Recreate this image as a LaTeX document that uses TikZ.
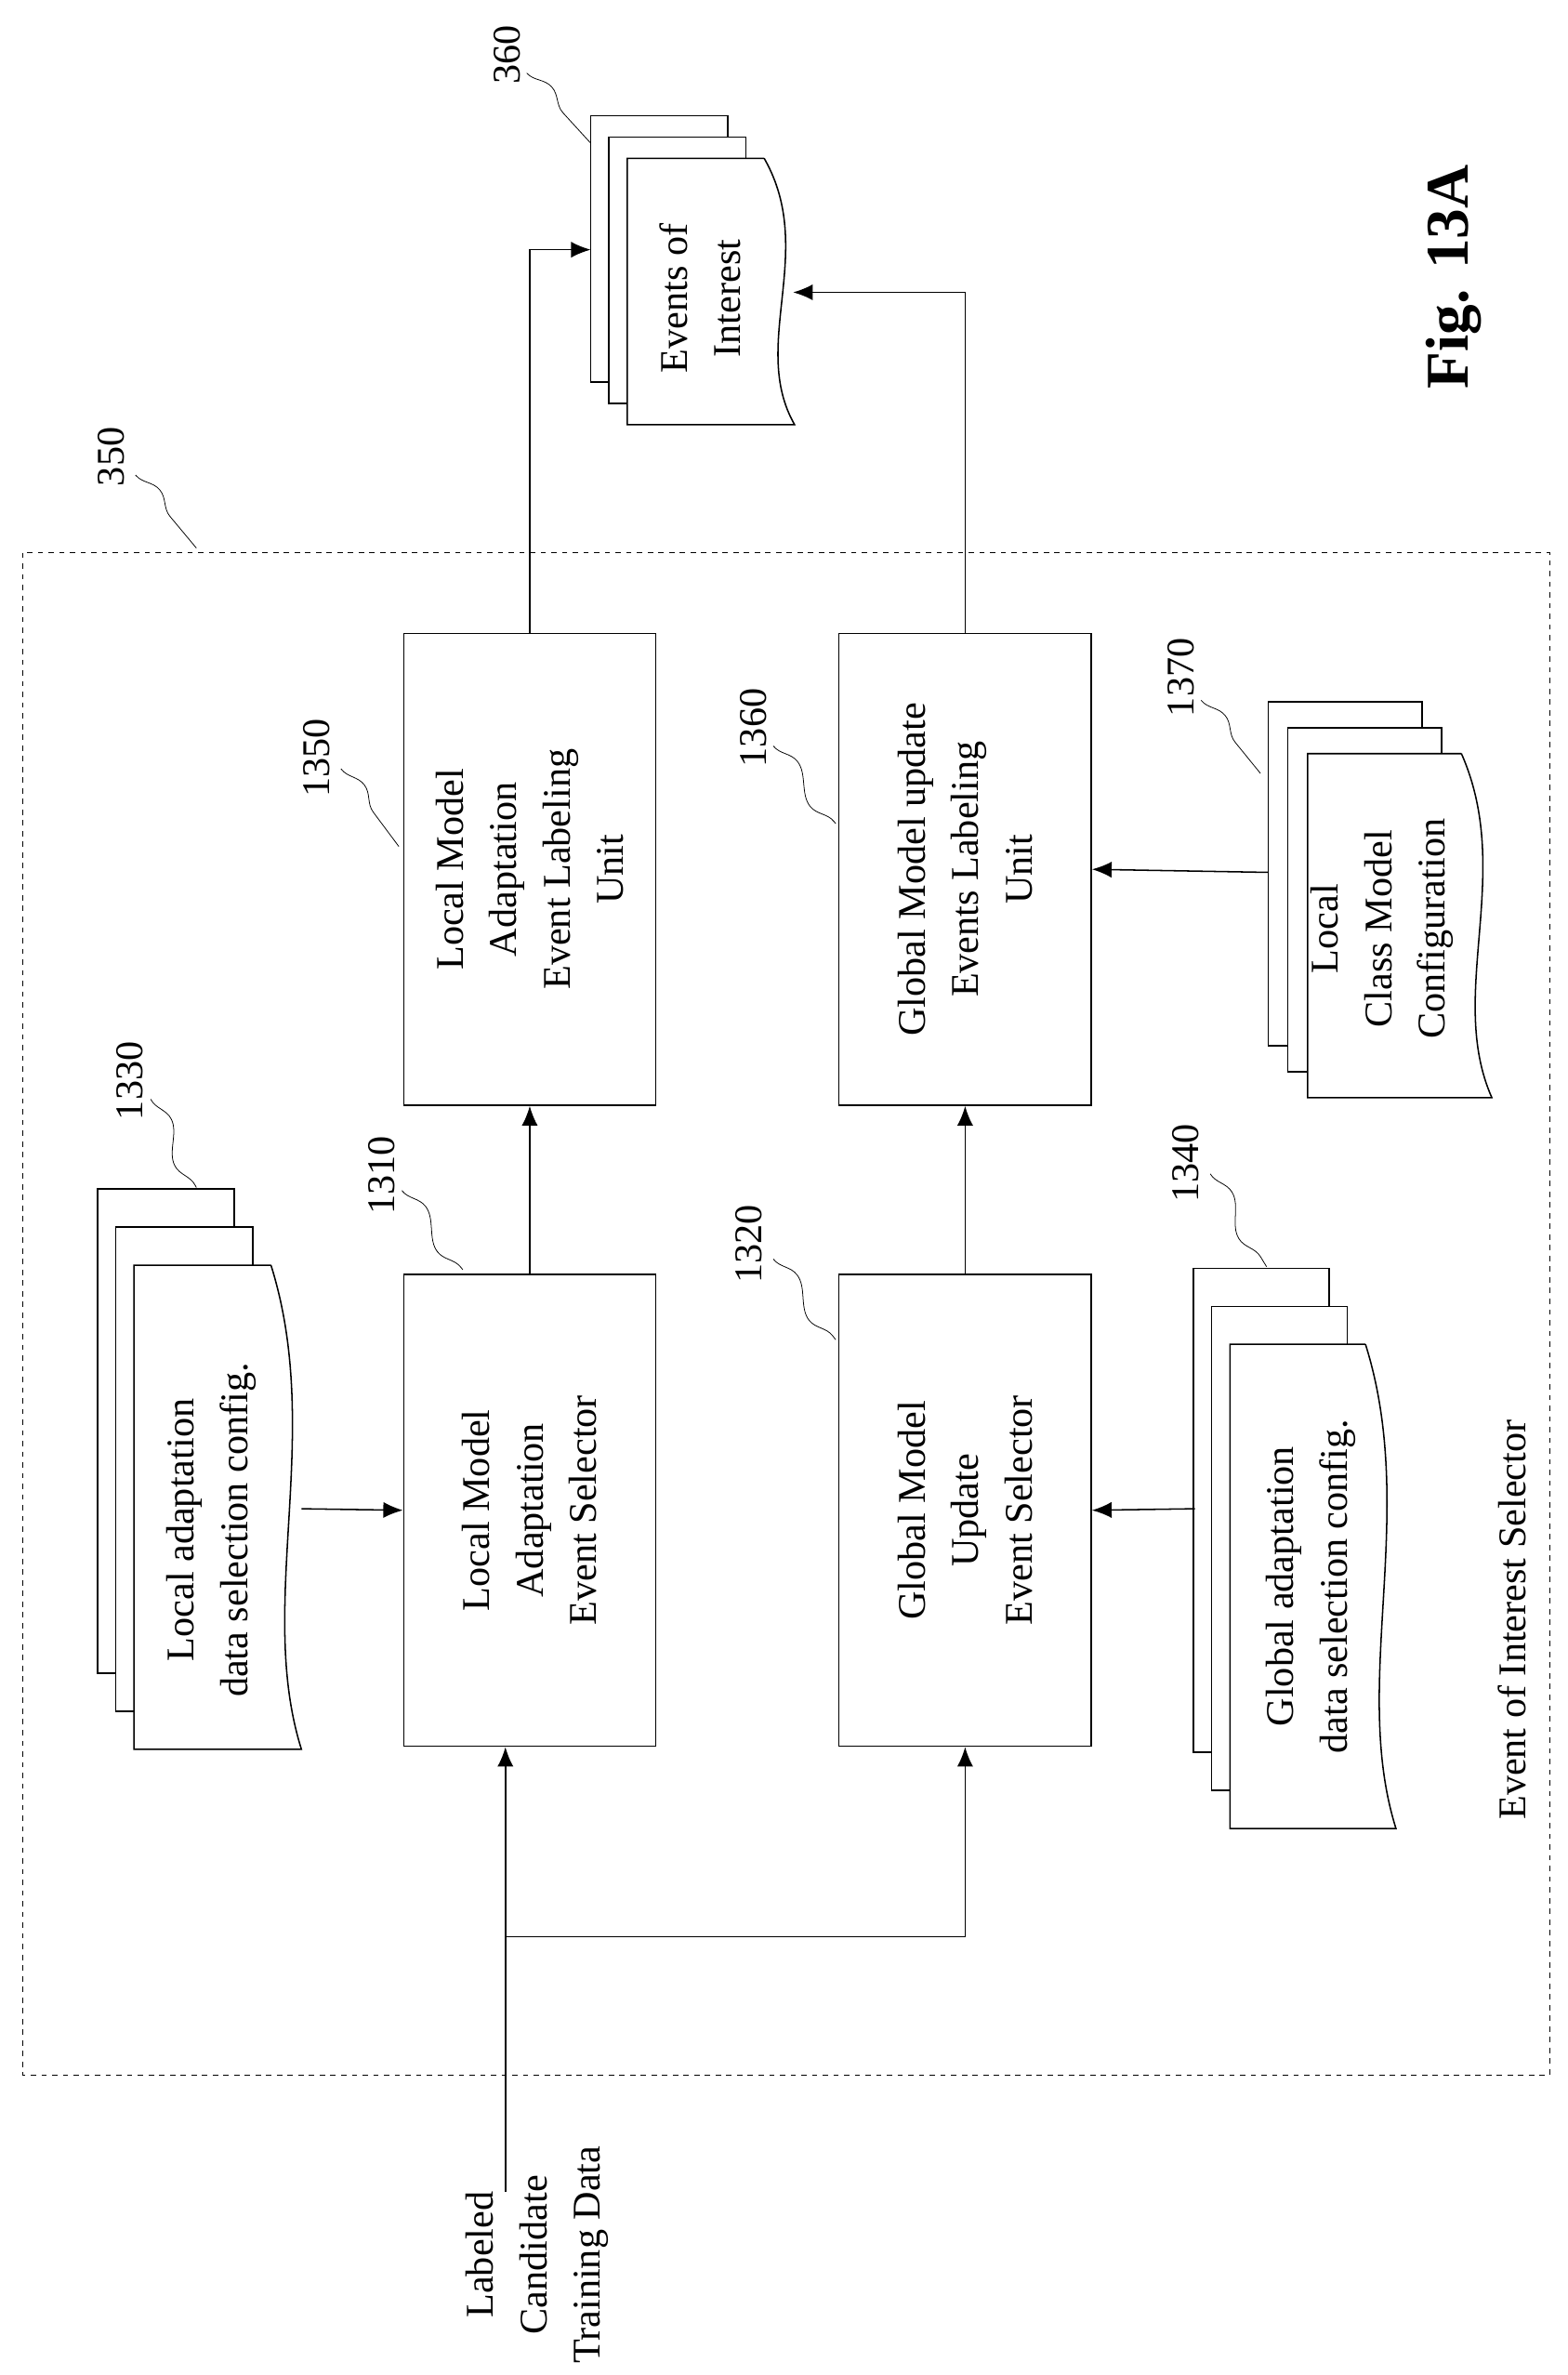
\documentclass[tikz,border=0pt]{standalone}
\usepackage{fontspec}
\setmainfont{Liberation Serif}
\usetikzlibrary{arrows.meta,decorations.pathmorphing}
\tikzset{
  font={\fontsize{22pt}{30pt}\selectfont},
  box/.style={draw, thick, rotate=90, align=center, minimum width=9.3cm, minimum height=4.97cm, inner sep=0pt},
  arr/.style={thick, -{Latex[length=11pt,width=9pt]}},
  squig/.style={thin, decorate, decoration={snake, amplitude=1.8mm, segment length=17mm}},
  refno/.style={rotate=90, inner sep=1pt}}
% one sheet with a wavy right side: x1,y1,x2,y2
\newcommand{\sheet}[4]{%
  \draw[thick, fill=white] (#3,#2) -- (#1,#2) -- (#1,#4) -- ({#3+20},#4)
    .. controls ({#3-10},{#4-0.3*(#4-#2)}) and ({#3+35},{#2+0.35*(#4-#2)}) .. (#3,#2);}
% two plain sheets behind one wavy sheet: x1,y1,x2,y2 of the front sheet, step dx,dy
\newcommand{\stack}[6]{%
  \foreach \k in {2,1}
    \draw[thick, fill=white] ({#1-#5*\k},{#2-#6*\k}) rectangle ({#3-#5*\k},{#4-#6*\k});
  \sheet{#1}{#2}{#3}{#4}}

\begin{document}
\begin{tikzpicture}[x=0.03cm, y=-0.03cm]
\useasboundingbox (0,0) rectangle (1030,1560);
% outer selector
\draw[thick, dashed] (15,363) rectangle (1018,1363);
\node[refno] (n350) at (73,300) {350};
\draw[squig] (89,312) -- (129,360);
\node[rotate=90] (eois) at (993,1064) {Event of Interest Selector};
\node[rotate=90, font={\fontsize{34pt}{40pt}\selectfont\bfseries}] (fig) at (955,182) {Fig. 13A};

% processing units
\node[box] (b1310) at (348,992) {Local Model\\Adaptation\\Event Selector};
\node[box] (b1350) at (348,571) {Local Model\\Adaptation\\Event Labeling\\Unit};
\node[box] (b1320) at (634,992) {Global Model\\Update\\Event Selector};
\node[box] (b1360) at (634,571) {Global Model update\\Events Labeling\\Unit};

% configuration stacks and output
\stack{88}{831}{178}{1149}{12}{25}
\node[rotate=90, align=center] (d1330) at (139,1005) {Local adaptation\\data selection config.};
\stack{808}{883}{897}{1201}{12}{25}
\node[rotate=90, align=center] (d1340) at (861,1042) {Global adaptation\\data selection config.};
\stack{859}{495}{960}{721}{13}{17}
\node[rotate=90, align=center] (d1370) at (908,610) {Local\\Class Model\\Configuration};
\stack{412}{104}{502}{279}{12}{14}
\node[rotate=90, align=center] (d360) at (460,196) {Events of\\Interest};
\coordinate (c1330) at (198,991);
\coordinate (c1340) at (785,991);
\coordinate (c1370) at (833,573);
\coordinate (c360a) at (388,164);
\coordinate (c360b) at (521,192);

% reference numbers
\node[refno] (n360) at (333,36) {360};
\draw[squig] (346,48) -- (388,94);
\node[refno] (n1330) at (85,710) {1330};
\draw[squig] (99,722) -- (129,780);
\node[refno] (n1310) at (251,772) {1310};
\draw[squig] (264,782) -- (304,834);
\node[refno] (n1350) at (208,498) {1350};
\draw[squig] (224,505) -- (262,556);
\node[refno] (n1360) at (495,478) {1360};
\draw[squig] (508,490) -- (549,541);
\node[refno] (n1320) at (492,817) {1320};
\draw[squig] (508,827) -- (549,880);
\node[refno] (n1340) at (779,764) {1340};
\draw[squig] (795,771) -- (832,832);
\node[refno] (n1370) at (776,445) {1370};
\draw[squig] (789,460) -- (828,508);

% input
\node[rotate=90, align=center] (inp) at (353,1481) {Labeled\\Candidate\\Training Data};
\coordinate (cin) at (332,1440);
\coordinate (split) at (332,1272);

% connectors
\draw[arr] (cin) -- (cin |- b1310.west);
\draw[arr] (split) -| (b1320.west);
\draw[arr] (c1330) -- (b1310.north);
\draw[arr] (c1340) -- (b1320.south);
\draw[arr] (c1370) -- (b1360.south);
\draw[arr] (b1310.east) -- (b1350.west);
\draw[arr] (b1320.east) -- (b1360.west);
\draw[arr] (b1350.east) |- (c360a);
\draw[arr] (b1360.east) |- (c360b);
\end{tikzpicture}
\end{document}
